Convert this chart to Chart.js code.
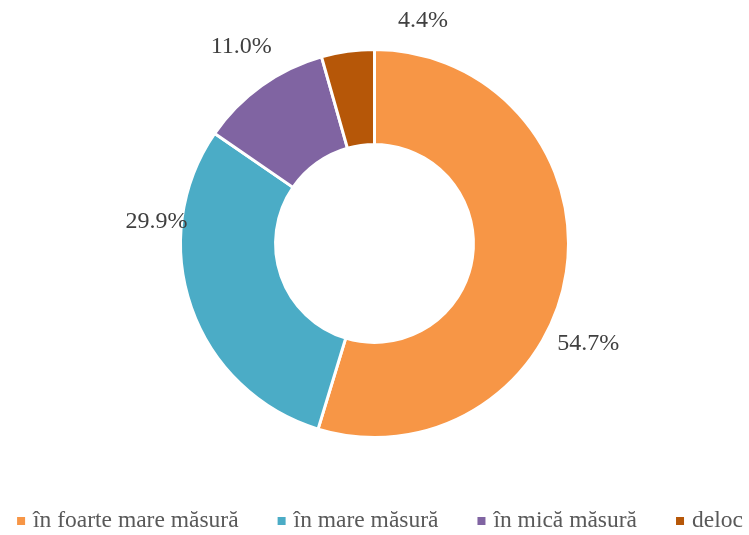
<!DOCTYPE html>
<html>
<head>
<meta charset="utf-8">
<script src="https://cdn.jsdelivr.net/npm/chart.js@4"></script>
<style>
  html, body { margin: 0; padding: 0; background: #ffffff; }
  #wrap { width: 749px; height: 535px; }
</style>
</head>
<body>
<div id="wrap"><canvas id="c" width="749" height="535"></canvas></div>
<script>
// Answer categories and their shares (%)
const categories = ['în foarte mare măsură', 'în mare măsură', 'în mică măsură', 'deloc'];
const shares = [54.7, 29.9, 11.0, 4.4];
const sliceColors = ['#F79646', '#4BACC6', '#8064A2', '#B65708'];

// Percentage labels drawn outside the ring, placed from each arc's geometry
const outerLabels = {
  id: 'outerLabels',
  afterDatasetsDraw(chart, args, opts) {
    const ctx = chart.ctx;
    const meta = chart.getDatasetMeta(0);
    const values = chart.data.datasets[0].data;
    ctx.save();
    ctx.font = opts.font;
    ctx.fillStyle = opts.color;
    ctx.textAlign = 'center';
    ctx.textBaseline = 'middle';
    meta.data.forEach((arc, i) => {
      const mid = (arc.startAngle + arc.endAngle) / 2 + opts.angleShift[i] * Math.PI / 180;
      const r = arc.outerRadius + opts.gap[i];
      const x = arc.x + Math.cos(mid) * r;
      const y = arc.y + Math.sin(mid) * r;
      ctx.fillText(values[i].toFixed(1) + '%', x, y);
    });
    ctx.restore();
  }
};

// Single-row legend along the bottom edge, built from the chart's legend items
const bottomLegend = {
  id: 'bottomLegend',
  afterDraw(chart, args, opts) {
    const ctx = chart.ctx;
    const items = chart.options.plugins.legend.labels.generateLabels(chart);
    ctx.save();
    ctx.font = opts.font;
    ctx.textBaseline = 'middle';
    ctx.textAlign = 'left';
    const widths = items.map(it => opts.box + opts.boxGap + ctx.measureText(it.text).width);
    const total = widths.reduce((a, b) => a + b, 0) + opts.itemGap * (items.length - 1);
    let x = opts.centerX - total / 2;
    const y = opts.y;
    items.forEach((it, i) => {
      ctx.fillStyle = it.fillStyle;
      ctx.fillRect(x, y - opts.box / 2, opts.box, opts.box);
      ctx.fillStyle = opts.color;
      ctx.fillText(it.text, x + opts.box + opts.boxGap, y);
      x += widths[i] + opts.itemGap;
    });
    ctx.restore();
  }
};

new Chart(document.getElementById('c'), {
  type: 'doughnut',
  data: {
    labels: categories,
    datasets: [{
      data: shares,
      backgroundColor: sliceColors,
      borderColor: '#ffffff',
      borderWidth: 3,
      radius: 194,
      cutout: '51%'
    }]
  },
  options: {
    responsive: false,
    animation: false,
    layout: { padding: { top: 0, bottom: 48, left: 0, right: 0 } },
    plugins: {
      tooltip: { enabled: false },
      legend: { display: false },
      outerLabels: {
        font: '24px "Liberation Serif", "Times New Roman", serif',
        color: '#404040',
        angleShift: [16.6, 25.0, 1.6, 20.2],
        gap: [42, 25, 44, 34]
      },
      bottomLegend: {
        font: '23.5px "Liberation Serif", "Times New Roman", serif',
        color: '#595959',
        box: 8,
        boxGap: 8,
        itemGap: 39,
        centerX: 380,
        y: 521
      }
    }
  },
  plugins: [outerLabels, bottomLegend]
});
</script>
</body>
</html>
